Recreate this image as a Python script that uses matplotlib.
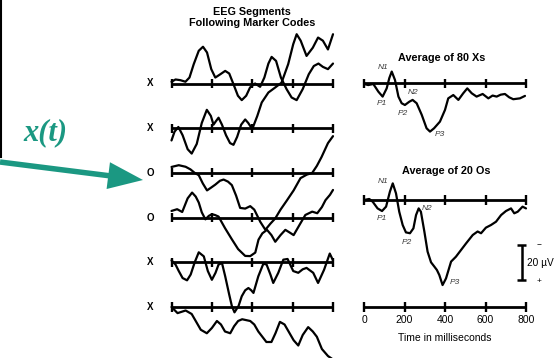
import matplotlib
matplotlib.use('Agg')
import matplotlib.pyplot as plt
from matplotlib.patches import FancyArrow
import numpy as np

plt.rcParams['font.family'] = ['Liberation Sans', 'DejaVu Sans']

# ---- data (ms, microvolts; negative is up, EEG style) ----
marker_codes = ['X', 'X', 'O', 'O', 'X', 'X']

t1 = [0, 20, 44, 69, 89, 110, 135, 156, 176, 197, 217, 242, 266, 286, 307, 329, 348, 370, 389, 414,
      439, 460, 480, 496, 518, 542, 570, 595, 620, 650, 680, 705, 728, 750, 775, 800]
v1 = [-1, -2.3, -1.9, -1, -3.4, -11, -18.7, -21, -17.7, -8.2, -3.4, -5.3, -7.2, -5.7, 0.4, 7, 9.5, 7, 2.3, 0,
      1.9, -3.4, -11.4, -15.2, -12.9, -3.4, 3.2, 8, 9.5, 3.2, -5.3, -10, -11.4, -9.5, -8.2, -11.4]

t2 = [0, 15, 34, 55, 80, 100, 125, 150, 175, 195, 208, 220, 233, 250, 270, 290, 307, 325, 345, 365,
      380, 400, 425, 447, 480, 513, 545, 578, 603, 620, 640, 669, 700, 726, 750, 775, 800]
v2 = [7, 2, -0.7, 4, 12, 14.5, 9, -3, -10.5, -7, -2, -4, -6, -2, 4, 8.5, 9.5, 5, -2, -5,
      -3, 0.5, -7, -14.7, -20.4, -23.2, -26, -36.6, -48, -53.7, -50, -41.3, -46, -51.8, -50, -45, -53.7]

t3 = [0, 36, 70, 94, 115, 135, 155, 176, 195, 217, 240, 258, 280, 299, 320, 340, 365, 390, 410, 440,
      465, 490, 514, 540, 570, 605, 639, 670, 697, 720, 743, 775, 800]
v3 = [-3.4, -4.4, -3.5, -2, 0, 1.3, 6, 10, 8.5, 6.7, 4.5, 3.8, 5, 7, 13, 20, 20.4, 19, 21, 28,
      32.5, 29, 26, 21, 16, 10, 3, 1, 0, -4, -9, -17, -21]

t4 = [0, 28, 53, 80, 102, 120, 135, 150, 168, 185, 200, 215, 233, 265, 299, 330, 365, 390, 415, 431,
      450, 473, 495, 514, 540, 564, 585, 605, 635, 663, 697, 722, 745, 763, 785, 800]
v4 = [-3.8, -4.8, -3.2, -11, -14.3, -12, -8.6, -3, 1, -1, -1.9, -1.5, -0.6, 6, 12.4, 18, 21.9, 22, 20, 12.6,
      9, 7, 10, 13.8, 10, 7, 8.5, 10, 4, -1.5, -3.4, -2.5, -6, -10, -13, -15.8]

t5 = [0, 20, 36, 55, 77, 95, 115, 135, 160, 180, 200, 218, 233, 250, 266, 285, 299, 312, 332, 348,
      365, 381, 395, 406, 430, 455, 471, 490, 504, 529, 554, 575, 603, 628, 650, 669, 702, 726, 756, 784, 800]
v5 = [-1.1, 1.3, 5, 9, 10.3, 7, 0, -5.7, -3.4, 5, 10, 6, 1.3, 0.4, 8, 18, 25, 28.6, 25, 19.4,
      16, 14.7, 16, 17.5, 8, 0.8, 1.3, 7, 11.8, 6, -1.5, -1.9, 5, 6, 4, 3.2, 6, 11.8, 4.2, -5, -1.1]

t6 = [0, 30, 70, 100, 125, 145, 175, 200, 225, 245, 265, 291, 310, 330, 350, 370, 390, 410, 430, 450,
      470, 495, 515, 537, 560, 580, 605, 628, 650, 677, 700, 720, 745, 775, 800]
v6 = [0, 3.5, 2, 4, 9, 13, 15, 12, 8, 10, 14, 15, 11, 8, 7, 7.5, 8, 10, 14, 17,
      20, 20, 15, 8.5, 10, 14, 19, 22, 16, 11.5, 14, 17, 24, 28, 30]

seg_times = [t1, t2, t3, t4, t5, t6]
seg_values = [v1, v2, v3, v4, v5, v6]

# averages
tx = [0, 21, 46, 71, 92, 112, 125, 137, 153, 170, 186, 202, 224, 240, 260, 285, 309, 326, 346, 375,
      400, 416, 441, 466, 490, 510, 532, 556, 586, 614, 635, 655, 675, 696, 717, 737, 770, 795]
vx = [0.4, 1, 0.4, 4.8, 7.6, 2.9, -3, -6.7, -1.9, 7.6, 11.4, 12.4, 10.5, 9.5, 11.4, 18, 25.7, 27.6, 25.7, 21.9,
      15.2, 8.6, 6.7, 9.5, 5.7, 2.9, 5.7, 7.6, 6.1, 8.6, 7, 7.6, 6.5, 6.1, 8, 9.1, 8.6, 7.2]

to = [0, 26, 43, 67, 89, 109, 128, 142, 158, 174, 191, 207, 227, 244, 257, 270, 281, 298, 314, 331,
      347, 360, 372, 388, 405, 430, 454, 479, 504, 537, 561, 578, 602, 627, 652, 677, 701, 726, 742, 759, 783, 800]
vo = [0, -0.6, 1, 4.8, 6.3, 3.8, -4.8, -9.5, -3.8, 6.7, 14.3, 18.5, 19, 16.2, 8.6, 4.8, 6.7, 18, 29.5, 35.6,
      38, 40, 42.9, 48.6, 44.8, 35.2, 32.4, 28.6, 24.8, 20, 18, 19, 15.8, 14.3, 12.4, 8.6, 6.3, 4.8, 7.6, 6.7, 3.8, 4.8]

peak_names = ['N1', 'P1', 'N2', 'P2', 'P3']
peaks_x_pos = [(94, -9.3), (89, 11.3), (242, 5.5), (193, 17), (375, 29)]
peaks_o_pos = [(94, -10.3), (89, 10.3), (311, 4.6), (212, 24), (450, 47.4)]

tick_ms = [0, 200, 400, 600, 800]
scale_uv = 20

# ---- layout ----
W, H = 559, 358
PX = 1.75  # pixels per microvolt
teal = '#1b9882'
trace_lw, axis_lw, tick_lw = 1.6, 2.0, 1.7

fig = plt.figure(figsize=(W / 100, H / 100), dpi=100)

# left: single segments
base_l = 83.5
ax_l = fig.add_axes([171.5 / W, 0, 161.5 / W, 1])
ax_l.set_xlim(0, 800)
ax_l.set_ylim((H - base_l) / PX, -base_l / PX)
ax_l.axis('off')
row_gap = 44.7 / PX
tick_h = 2.6
for i, (lab, t, v) in enumerate(zip(marker_codes, seg_times, seg_values)):
    off = i * row_gap
    ax_l.hlines(off, 0, 800, color='k', lw=axis_lw, clip_on=False)
    ax_l.vlines(tick_ms, off - tick_h, off + tick_h, color='k', lw=tick_lw, clip_on=False)
    ax_l.plot(t, np.array(v) + off, color='k', lw=trace_lw, clip_on=False,
              solid_joinstyle='round', solid_capstyle='round')
    ax_l.text(-107, off, lab, ha='center', va='center', fontsize=7, fontweight='bold')

fig.text(252 / W, 1 - 12 / H, 'EEG Segments', ha='center', va='center', fontsize=7.8, fontweight='bold')
fig.text(252 / W, 1 - 23 / H, 'Following Marker Codes', ha='center', va='center', fontsize=7.8,
         fontweight='bold')

# right: averages
base_r = 83.3
ax_r = fig.add_axes([364 / W, 0, 162 / W, 1])
ax_r.set_xlim(0, 800)
ax_r.set_ylim((H - base_r) / PX, -base_r / PX)
ax_r.axis('off')
off_o = (200 - base_r) / PX
off_t = (307 - base_r) / PX

for off, t, v, pk in [(0, tx, vx, peaks_x_pos), (off_o, to, vo, peaks_o_pos)]:
    ax_r.hlines(off, 0, 800, color='k', lw=axis_lw, clip_on=False)
    ax_r.vlines(tick_ms, off - tick_h, off + tick_h, color='k', lw=tick_lw, clip_on=False)
    ax_r.plot(t, np.array(v) + off, color='k', lw=trace_lw, clip_on=False,
              solid_joinstyle='round', solid_capstyle='round')
    for name, (px_, py_) in zip(peak_names, pk):
        ax_r.text(px_, py_ + off, name, ha='center', va='center', fontsize=6, style='italic',
                  color='#3a3a3a')

ax_r.text(384, -14.3, 'Average of 80 Xs', ha='center', va='center', fontsize=7.8, fontweight='bold')
ax_r.text(408, off_o - 16.6, 'Average of 20 Os', ha='center', va='center', fontsize=7.8, fontweight='bold')

# time axis
ax_r.hlines(off_t, 0, 800, color='k', lw=axis_lw, clip_on=False)
ax_r.vlines(tick_ms, off_t - tick_h, off_t + tick_h, color='k', lw=tick_lw, clip_on=False)
for ms in tick_ms:
    ax_r.text(ms, off_t + 13 / PX, str(ms), ha='center', va='center', fontsize=7.5)
ax_r.text(400, off_t + 31 / PX, 'Time in milliseconds', ha='center', va='center', fontsize=7.5)

# scale bar
sb_x = 780
sb_top = (245 - base_r) / PX
ax_r.vlines(sb_x, sb_top, sb_top + scale_uv, color='k', lw=1.8, clip_on=False)
ax_r.hlines([sb_top, sb_top + scale_uv], sb_x - 22, sb_x + 22, color='k', lw=1.8, clip_on=False)
ax_r.text(865, sb_top, '\u2212', ha='center', va='center', fontsize=6)
ax_r.text(865, sb_top + scale_uv + 0.8, '+', ha='center', va='center', fontsize=6)
ax_r.text(805, sb_top + scale_uv / 2, '20 \u00b5V', ha='left', va='center', fontsize=7.3)

# overlay: x(t) label and arrow
ax_o = fig.add_axes([0, 0, 1, 1])
ax_o.set_xlim(0, W)
ax_o.set_ylim(H, 0)
ax_o.axis('off')
ax_o.patch.set_alpha(0)
ax_o.plot([1, 1], [0, 157], color='k', lw=1.5)
ax_o.text(45, 133, 'x(t)', ha='center', va='center', fontsize=22, color=teal,
          family=['Liberation Serif', 'DejaVu Serif'], fontweight='bold', style='italic')
ax_o.add_patch(FancyArrow(0, 162, 143, 18, width=5.5, head_width=27, head_length=35,
                          length_includes_head=True, color=teal, lw=0))

fig.savefig('out.png', dpi=100)
